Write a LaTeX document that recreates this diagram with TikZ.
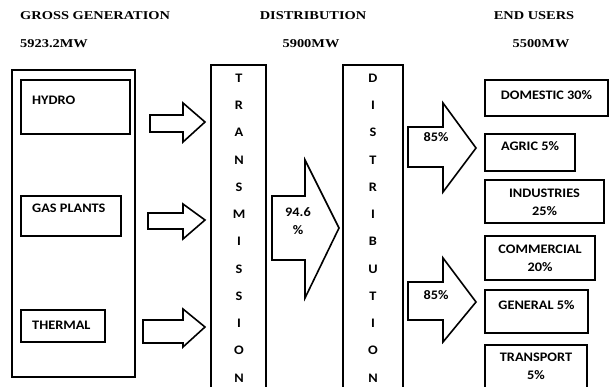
\documentclass[tikz,border=0pt]{standalone}
\usepackage{fontspec}
\newfontfamily\headfont[FakeStretch=1.2]{Liberation Serif}
\newfontfamily\labfont[FakeStretch=1.1]{Carlito}

\begin{document}
\begin{tikzpicture}[x = 1pt, y = -1pt,
	box/.style = {line width = 2pt},
	blk/.style = {line width = 1.6pt, line join = miter},
	head/.style = {font = \headfont\bfseries\fontsize{12}{14}\selectfont, inner sep = 0pt},
	lab/.style = {font = \labfont\bfseries\fontsize{13}{18}\selectfont, inner sep = 0pt, align = center}]
	\clip (0,0) rectangle (610,387);
	% headings
	\node[head, anchor = west] (gross) at (20,16) {GROSS GENERATION};
	\node[head, anchor = west] (grossmw) at (20,44) {5923.2MW};
	\node[head] (dist) at (313,16) {DISTRIBUTION};
	\node[head] (distmw) at (311,44) {5900MW};
	\node[head] (users) at (534,16) {END USERS};
	\node[head] (usersmw) at (541,44) {5500MW};
	% generation
	\draw[line width = 2.5pt] (12,70) rectangle (135,377);
	\draw[box] (21,80) rectangle (130,134);
	\draw[box] (21,196) rectangle (121,236);
	\draw[box] (21,310) rectangle (105,342);
	\node[lab, anchor = west] (hydro) at (32,100) {HYDRO};
	\node[lab, anchor = west] (gas) at (32,208) {GAS PLANTS};
	\node[lab, anchor = west] (thermal) at (32,325) {THERMAL};
	% block arrows
	\foreach \xa/\xb/\xc/\ya/\yb/\yt/\yh/\yc in {150/183/205/115/132/103/142/122, 148/183/205/213/229/204/239/220,
		143/183/205/320/343/309/347/327, 272/305/339/196/260/160/298/228,
		408/443/476/127/167/103/192/148, 408/443/476/282/320/258/342/302}{
		\draw[blk] (\xa,\ya) -- (\xb,\ya) -- (\xb,\yt) -- (\xc,\yc) -- (\xb,\yh) -- (\xb,\yb) -- (\xa,\yb) -- cycle;}
	\node[lab] (eff) at (298,221) {94.6\\\%};
	\node[lab] (spa) at (436,137) {85\%};
	\node[lab] (spb) at (436,295) {85\%};
	% columns
	\draw[box] (211,400) -- (211,65) -- (266,65) -- (266,400);
	\draw[box] (343,400) -- (343,65) -- (403,65) -- (403,400);
	\foreach \c [count = \k] in {T,R,A,N,S,M,I,S,S,I,O,N}{
		\node[lab] (t\k) at (239,{78 + 27.27*(\k - 1)}) {\c};}
	\foreach \c [count = \k] in {D,I,S,T,R,I,B,U,T,I,O,N}{
		\node[lab] (d\k) at (373,{78 + 27.27*(\k - 1)}) {\c};}
	% end users
	\foreach \y/\w/\h/\ty/\t [count = \k] in {80/123/36/95/{DOMESTIC 30\%}, 134/90/37/146/{AGRIC 5\%},
		180/119/43/193/{INDUSTRIES\\25\%}, 236/110/44/249/{COMMERCIAL\\20\%},
		290/103/43/305/{GENERAL 5\%}, 345/102/60/357/{TRANSPORT\\5\%}}{
		\draw[box] (485,\y) rectangle ++(\w,\h);
		\node[lab, anchor = north] (u\k) at ({485 + \w/2},{\ty - 4.5}) {\t};}
\end{tikzpicture}
\end{document}
